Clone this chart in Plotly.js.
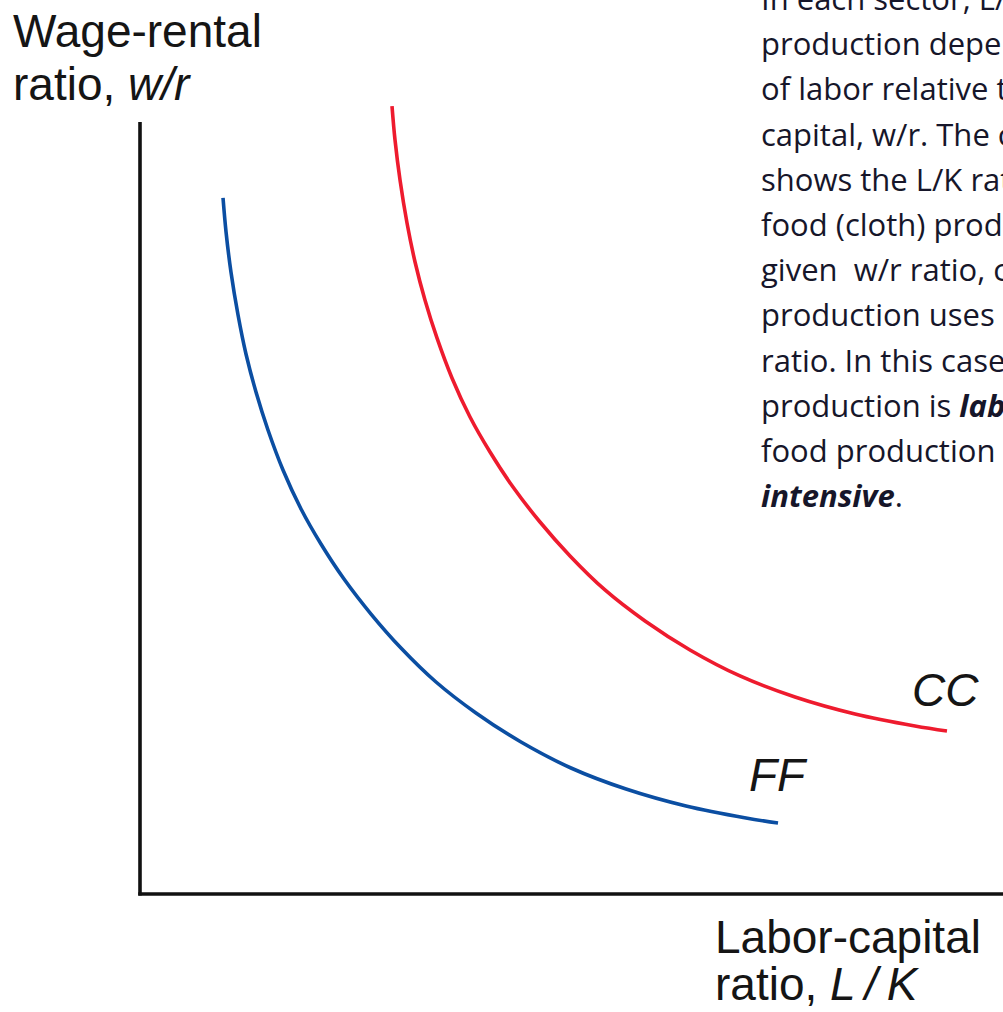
<!DOCTYPE html>
<html>
<head>
<meta charset="utf-8">
<script src="https://cdn.plot.ly/plotly-3.0.1.min.js"></script>
<style>
  html, body { margin: 0; padding: 0; background: #fff; }
  #chart { width: 1003px; height: 1012px; }
</style>
</head>
<body>
<div id="chart"></div>
<script>
// curve CC (cloth) and FF (food), axis units 0..100
const ccX = [29.20, 29.55, 30.13, 30.94, 31.87, 33.02, 34.41, 36.15, 38.24, 40.56, 43.22,
             46.35, 49.83, 53.88, 58.52, 63.73, 69.52, 75.90, 82.85, 89.80, 93.51];
const ccY = [99.24, 94.96, 89.92, 84.51, 79.60, 74.81, 70.03, 64.99, 60.08, 55.67, 51.26,
             46.85, 42.57, 38.29, 34.38, 30.73, 27.46, 24.81, 22.67, 21.16, 20.53];

const ffX = [9.62, 9.97, 10.54, 11.36, 12.28, 13.44, 14.83, 16.57, 18.66, 20.97, 23.64,
             26.77, 30.24, 34.30, 38.93, 44.15, 49.94, 56.32, 63.27, 70.22, 73.93];
const ffY = [87.66, 83.38, 78.34, 72.92, 68.01, 63.22, 58.44, 53.40, 48.49, 44.08, 39.67,
             35.26, 30.98, 26.70, 22.80, 19.14, 15.87, 13.22, 11.08, 9.57, 8.94];

// side note, cut off by the right edge of the picture
const noteLines = [
  "In each sector, L/K",
  "production depends",
  "of labor relative to",
  "capital, w/r. The curve",
  "shows the L/K ratio",
  "food (cloth) production",
  "given  w/r ratio, cloth",
  "production uses a",
  "ratio. In this case,",
  "production is <b><i>labor-</i></b>",
  "food production is",
  "<b><i>intensive</i></b>.",
];

// plot area in pixels
const L = 140, T = 100, W = 863, H = 794;
const px = (x) => (x - L) / W;
const py = (y) => (T + H - y) / H;

const labelFont = { family: "Liberation Sans, Arial, sans-serif", size: 46, color: "#151515" };
const noteFont = { family: "Open Sans, Noto Sans, sans-serif", size: 31, color: "#16162a" };

const annotations = [];

function addText(text, x, y, font) {
  annotations.push({
    text: text, xref: "paper", yref: "paper",
    x: px(x), y: py(y), xanchor: "left", yanchor: "middle",
    showarrow: false, borderpad: 0, align: "left", font: font,
  });
}

addText("Wage-rental", 12, 31, labelFont);
addText("ratio, <i>w/r</i>", 12, 84, labelFont);
addText("Labor-capital", 714, 937, labelFont);
addText("ratio, <i>L\u2009/\u2009K</i>", 714, 984, labelFont);

noteLines.forEach((line, i) => {
  addText(line, 760, -2 + 45.2 * i, noteFont);
});

// curve labels in data units
annotations.push({
  text: "<i>CC</i>", x: 89.3, y: 25.7, xanchor: "left", yanchor: "middle",
  showarrow: false, borderpad: 0, font: labelFont,
});
annotations.push({
  text: "<i>FF</i>", x: 70.5, y: 15.0, xanchor: "left", yanchor: "middle",
  showarrow: false, borderpad: 0, font: labelFont,
});

const traces = [
  {
    x: ccX, y: ccY, mode: "lines", name: "CC",
    line: { color: "#ee1b2e", width: 3.6, shape: "spline", smoothing: 1 },
  },
  {
    x: ffX, y: ffY, mode: "lines", name: "FF",
    line: { color: "#0b4ea2", width: 3.6, shape: "spline", smoothing: 1 },
  },
];

const layout = {
  width: 1003,
  height: 1012,
  margin: { l: L, r: 0, t: T, b: 1012 - T - H, pad: 0 },
  paper_bgcolor: "#fff",
  plot_bgcolor: "#fff",
  showlegend: false,
  xaxis: { range: [0, 100], visible: false, showgrid: false, zeroline: false },
  yaxis: { range: [0, 100], visible: false, showgrid: false, zeroline: false },
  annotations: annotations,
  shapes: [
    // the two axes
    { type: "line", xref: "paper", yref: "paper", x0: 0, x1: 0, y0: -0.002, y1: py(122),
      line: { color: "#111", width: 3.6 } },
    { type: "line", xref: "paper", yref: "paper", x0: -0.002, x1: 1.01, y0: 0, y1: 0,
      line: { color: "#111", width: 3.6 } },
  ],
};

Plotly.newPlot("chart", traces, layout, { staticPlot: true, displayModeBar: false });
</script>
</body>
</html>
